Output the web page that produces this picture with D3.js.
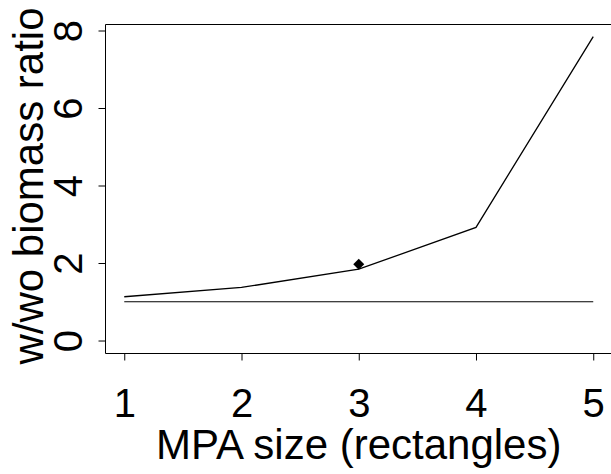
<!DOCTYPE html>
<html>
<head>
<meta charset="utf-8">
<script src="https://cdn.jsdelivr.net/npm/d3@7"></script>
<style>
  body { margin: 0; background: #fff; }
  svg { display: block; font-family: "Liberation Sans", Arial, Helvetica, sans-serif; }
</style>
</head>
<body>
<svg id="chart" width="611" height="474"></svg>
<script>
// MPA size vs with/without biomass ratio
var sizes = [1, 2, 3, 4, 5];
var ratio = [1.13, 1.37, 1.84, 2.92, 7.84];
var baseline = [1, 1, 1, 1, 1];
var observed = [{x: 3, y: 1.97}];
var xTicks = [1, 2, 3, 4, 5];
var yTicks = [0, 2, 4, 6, 8];

var svg = d3.select("#chart");

// plot region (R style, 4% padding on each side)
var box = {left: 105.5, right: 612, top: 24.5, bottom: 353.5};

var x = d3.scaleLinear().domain([0.84, 5.16]).range([box.left, box.right]);
var y = d3.scaleLinear().domain([-0.335, 8.155]).range([box.bottom, box.top]);

// box (left, top, bottom; right edge falls off the page)
svg.append("path")
    .attr("d", "M" + box.right + "," + box.top + "H" + box.left + "V" + box.bottom + "H" + box.right)
    .attr("fill", "none")
    .attr("stroke", "#000")
    .attr("stroke-width", 1);

// x axis
var xAxis = svg.append("g")
    .attr("transform", "translate(0," + box.bottom + ")")
    .call(d3.axisBottom(x).tickValues(xTicks).tickSize(7).tickPadding(0).tickFormat(d3.format("d")));
xAxis.select(".domain").remove();
xAxis.selectAll(".tick line").attr("stroke", "#000");
xAxis.selectAll(".tick text")
    .attr("dy", null)
    .attr("y", 417 - box.bottom)
    .attr("font-size", "40px")
    .attr("font-family", null)
    .attr("fill", "#000");

// y axis (labels rotated, R's las=0)
var yAxis = svg.append("g")
    .attr("transform", "translate(" + box.left + ",0)")
    .call(d3.axisLeft(y).tickValues(yTicks).tickSize(7).tickFormat(d3.format("d")));
yAxis.select(".domain").remove();
yAxis.selectAll(".tick line").attr("stroke", "#000");
yAxis.selectAll(".tick text")
    .attr("x", null)
    .attr("dy", null)
    .attr("transform", "translate(" + (82 - box.left) + ",0) rotate(-90)")
    .attr("text-anchor", "middle")
    .attr("font-size", "40px")
    .attr("font-family", null)
    .attr("fill", "#000");

// reference line at ratio 1
var line = d3.line()
    .x(function(d, i) { return x(sizes[i]); })
    .y(function(d) { return y(d); });

svg.append("path")
    .datum(baseline)
    .attr("d", line)
    .attr("fill", "none")
    .attr("stroke", "#000")
    .attr("stroke-width", 1.2);

svg.append("path")
    .datum(ratio)
    .attr("d", line)
    .attr("fill", "none")
    .attr("stroke", "#000")
    .attr("stroke-width", 1.3);

// observed point (filled diamond)
svg.selectAll(".obs")
    .data(observed)
  .enter().append("path")
    .attr("class", "obs")
    .attr("transform", function(d) { return "translate(" + x(d.x) + "," + y(d.y) + ") rotate(45)"; })
    .attr("d", d3.symbol().type(d3.symbolSquare).size(60))
    .attr("fill", "#000");

// axis titles
svg.append("text")
    .attr("x", (box.left + box.right) / 2)
    .attr("y", 459)
    .attr("text-anchor", "middle")
    .attr("font-size", "42px")
    .text("MPA size (rectangles)");

svg.append("text")
    .attr("transform", "translate(43," + ((box.top + box.bottom) / 2 - 3) + ") rotate(-90)")
    .attr("text-anchor", "middle")
    .attr("font-size", "42px")
    .text("w/wo biomass ratio");
</script>
</body>
</html>
